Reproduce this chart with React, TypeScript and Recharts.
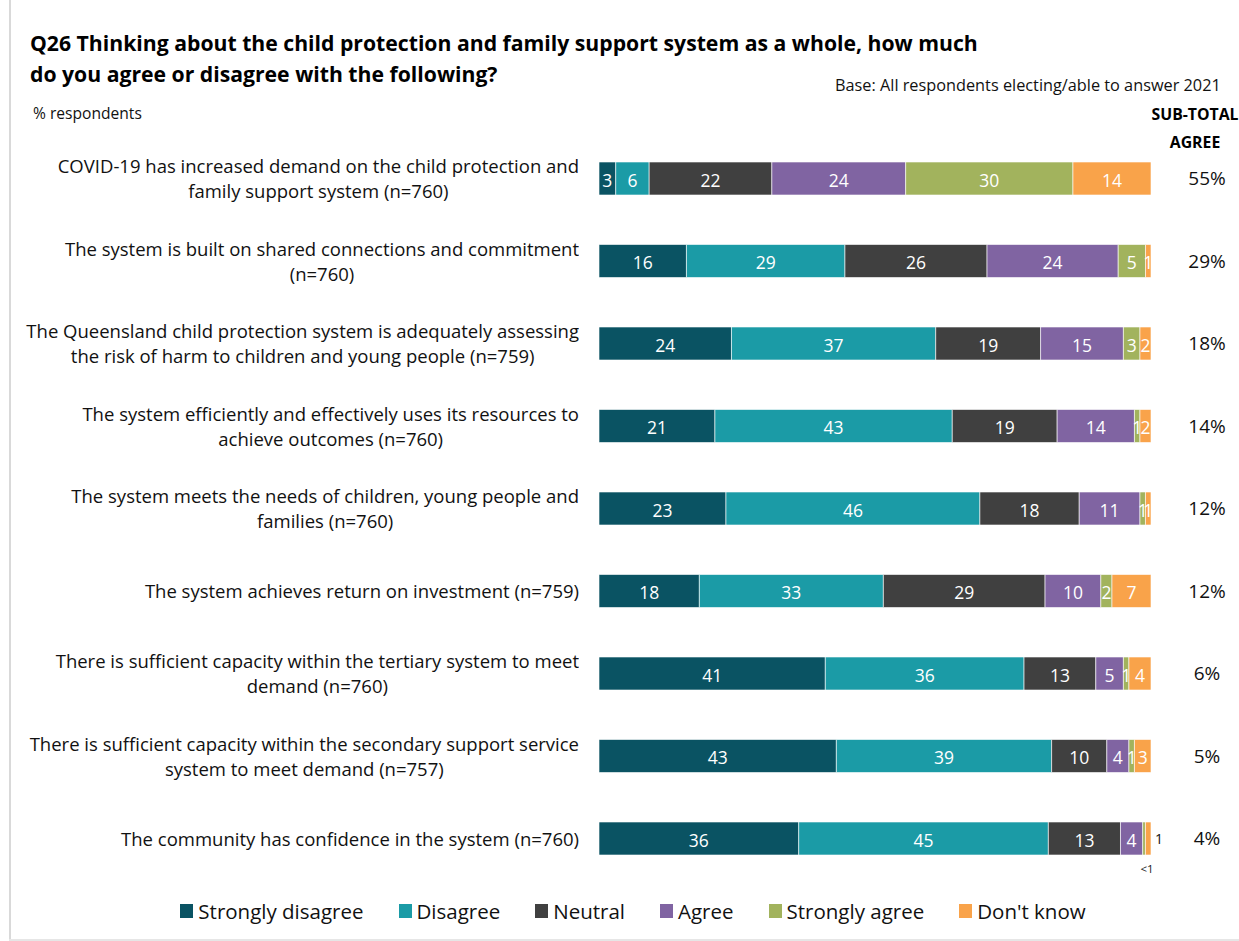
import React from 'react';
import { BarChart, Bar, XAxis, YAxis, LabelList } from 'recharts';

const categories = [
  'COVID-19 has increased demand on the child protection and\nfamily support system (n=760)',
  'The system is built on shared connections and commitment\n(n=760)',
  'The Queensland child protection system is adequately assessing\nthe risk of harm to children and young people (n=759)',
  'The system efficiently and effectively uses its resources to\nachieve outcomes (n=760)',
  'The system meets the needs of children, young people and\nfamilies (n=760)',
  'The system achieves return on investment (n=759)',
  'There is sufficient capacity within the tertiary system to meet\ndemand (n=760)',
  'There is sufficient capacity within the secondary support service\nsystem to meet demand (n=757)',
  'The community has confidence in the system (n=760)',
];

const stronglyDisagree = [3, 16, 24, 21, 23, 18, 41, 43, 36];
const disagree = [6, 29, 37, 43, 46, 33, 36, 39, 45];
const neutral = [22, 26, 19, 19, 18, 29, 13, 10, 13];
const agree = [24, 24, 15, 14, 11, 10, 5, 4, 4];
const stronglyAgree = [30, 5, 3, 1, 1, 2, 1, 1, 0.5];
const dontKnow = [14, 1, 2, 2, 1, 7, 4, 3, 1];
const dontKnowOutside = [false, false, false, false, false, false, false, false, true];
const subTotalAgree = [55, 29, 18, 14, 12, 12, 6, 5, 4];

const seriesNames = ['Strongly disagree', 'Disagree', 'Neutral', 'Agree', 'Strongly agree', "Don't know"];
const seriesKeys = ['sd', 'd', 'n', 'a', 'sa', 'dk'];
const seriesColors = ['#0a5363', '#1b9ba6', '#404040', '#8064a2', '#a2b35d', '#f9a34a'];
const seriesValues = [stronglyDisagree, disagree, neutral, agree, stronglyAgree, dontKnow];

const data = categories.map((name, i) => {
  const row: any = { name, subtotal: subTotalAgree[i], idx: i };
  seriesKeys.forEach((k, j) => {
    row[k] = seriesValues[j][i];
  });
  return row;
});

const FONT = '"Open Sans", "Noto Sans", sans-serif';

const makeLabel = (key: string) => (props: any) => {
  const { x, y, width, height, value, index } = props;
  const v = Number(value);
  if (v < 1) {
    return (
      <text x={x + width / 2 + 3} y={y + height + 13} fill="#222" fontSize={11.5} fontFamily={FONT} textAnchor="middle" dominantBaseline="central">
        {'<1'}
      </text>
    );
  }
  if (key === 'dk' && dontKnowOutside[index]) {
    return (
      <text x={x + width + 4} y={y + height / 2} fill="#111" fontSize={14} fontFamily={FONT} textAnchor="start" dominantBaseline="central">
        {v}
      </text>
    );
  }
  return (
    <text x={x + width / 2} y={y + height / 2 + 1} fill="#ffffff" fontSize={17.5} fontFamily={FONT} textAnchor="middle" dominantBaseline="central">
      {v}
    </text>
  );
};

const CategoryTick = (props: any) => {
  const { x, y, payload } = props;
  const lines = String(payload.value).split('\n');
  const w = 580;
  return (
    <foreignObject x={x - w} y={y - 30} width={w} height={60}>
      <div
        style={{
          width: w,
          height: 60,
          display: 'flex',
          justifyContent: 'flex-end',
          alignItems: 'center',
          fontFamily: FONT,
          fontSize: 18.5,
          lineHeight: '25px',
          color: '#111',
        }}
      >
        <div style={{ textAlign: 'center', whiteSpace: 'nowrap' }}>
          {lines.map((l, i) => (
            <div key={i}>{l}</div>
          ))}
        </div>
      </div>
    </foreignObject>
  );
};

const SubtotalTick = (props: any) => {
  const { y, payload, index } = props;
  const v = data[index] ? data[index].subtotal : payload.value;
  return (
    <text x={1207} y={y} fill="#111" fontSize={19} fontFamily={FONT} textAnchor="middle" dominantBaseline="central">
      {v + '%'}
    </text>
  );
};

export default function App() {
  return (
    <div
      style={{
        position: 'absolute',
        left: 0,
        top: 0,
        width: 1239,
        height: 941,
        background: '#fff',
        overflow: 'hidden',
        fontFamily: FONT,
      }}
    >
      <div style={{ position: 'absolute', left: 9, top: 0, width: 2, height: 941, background: '#d9d9d9' }} />
      <div style={{ position: 'absolute', left: 9, top: 939, width: 1230, height: 2, background: '#e6e6e6' }} />
      <div
        style={{
          position: 'absolute',
          left: 30,
          top: 27,
          fontWeight: 700,
          fontSize: 21.2,
          lineHeight: '31px',
          color: '#000',
          whiteSpace: 'nowrap',
        }}
      >
        <div>Q26 Thinking about the child protection and family support system as a whole, how much</div>
        <div>do you agree or disagree with the following?</div>
      </div>
      <div style={{ position: 'absolute', left: 835, top: 74, fontSize: 16.3, color: '#111', whiteSpace: 'nowrap' }}>
        Base: All respondents electing/able to answer 2021
      </div>
      <div style={{ position: 'absolute', left: 33, top: 102, fontSize: 15.6, color: '#111', whiteSpace: 'nowrap' }}>
        % respondents
      </div>
      <div
        style={{
          position: 'absolute',
          left: 1145,
          top: 100,
          width: 100,
          textAlign: 'center',
          fontWeight: 700,
          fontSize: 15.8,
          lineHeight: '28px',
          color: '#000',
        }}
      >
        <div>SUB-TOTAL</div>
        <div>AGREE</div>
      </div>

      <div style={{ position: 'absolute', left: 0, top: 0 }}>
        <BarChart
          width={1239}
          height={890}
          data={data}
          layout="vertical"
          stackOffset="expand"
          margin={{ top: 137, right: 0, bottom: 10.5, left: 0 }}
        >
          <XAxis type="number" hide domain={[0, 1]} />
          <YAxis
            yAxisId="left"
            type="category"
            dataKey="name"
            width={599}
            axisLine={false}
            tickLine={false}
            tickSize={0}
            tickMargin={20}
            interval={0}
            tick={<CategoryTick />}
          />
          <YAxis
            yAxisId="right"
            orientation="right"
            type="category"
            dataKey="name"
            width={88}
            axisLine={false}
            tickLine={false}
            interval={0}
            tick={<SubtotalTick />}
          />
          {seriesKeys.map((k, j) => (
            <Bar
              key={k}
              dataKey={k}
              name={seriesNames[j]}
              stackId="s"
              yAxisId="left"
              fill={seriesColors[j]}
              stroke="#ffffff"
              strokeWidth={0.6}
              barSize={33}
              isAnimationActive={false}
            >
              <LabelList dataKey={k} content={makeLabel(k)} />
            </Bar>
          ))}
        </BarChart>
      </div>

      <div
        style={{
          position: 'absolute',
          left: 0,
          top: 897,
          width: 1266,
          display: 'flex',
          justifyContent: 'center',
          alignItems: 'center',
          fontSize: 20.5,
          color: '#111',
        }}
      >
        {seriesNames.map((n, j) => (
          <div key={n} style={{ display: 'flex', alignItems: 'center', marginRight: j < seriesNames.length - 1 ? 35 : 0 }}>
            <span style={{ display: 'inline-block', width: 13, height: 14, background: seriesColors[j], marginRight: 5 }} />
            <span>{n}</span>
          </div>
        ))}
      </div>
    </div>
  );
}
